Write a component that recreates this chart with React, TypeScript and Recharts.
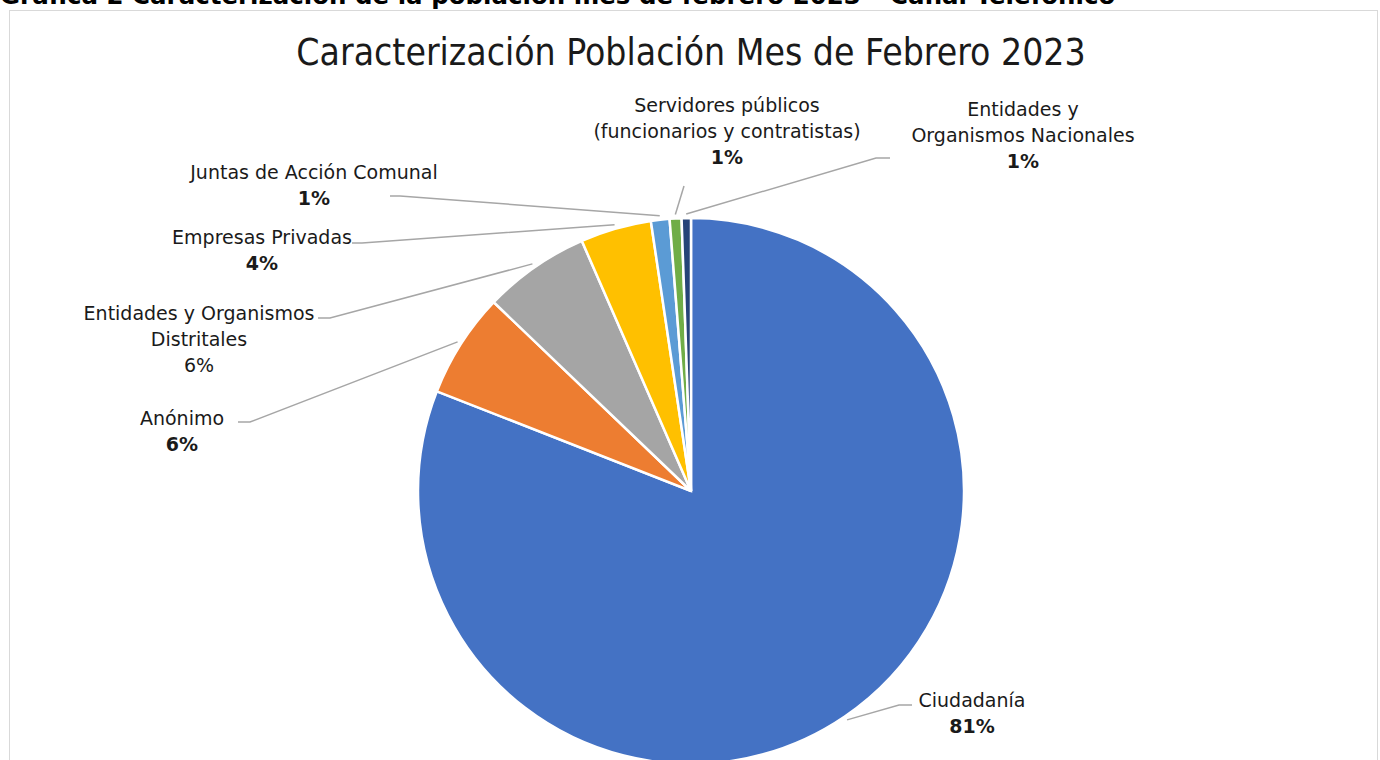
import { PieChart, Pie, Cell } from 'recharts';

// ---------------------------------------------------------------------------
// Data
// ---------------------------------------------------------------------------

const categories = [
  'Ciudadanía',
  'Anónimo',
  'Entidades y Organismos Distritales',
  'Empresas Privadas',
  'Juntas de Acción Comunal',
  'Servidores públicos (funcionarios y contratistas)',
  'Entidades y Organismos Nacionales',
];

const shares = [80.95, 6.2, 6.3, 4.2, 1.1, 0.7, 0.55];

const labelLines = [
  ['Ciudadanía'],
  ['Anónimo'],
  ['Entidades y Organismos', 'Distritales'],
  ['Empresas Privadas'],
  ['Juntas de Acción Comunal'],
  ['Servidores públicos', '(funcionarios y contratistas)'],
  ['Entidades y', 'Organismos Nacionales'],
];

const colors = ['#4472C4', '#ED7D31', '#A5A5A5', '#FFC000', '#5B9BD5', '#70AD47', '#264478'];

const chartData = categories.map((name, i) => ({ name, value: shares[i] }));

// ---------------------------------------------------------------------------
// Label layout (page coords): text centre, first line y, elbow and tail of leader
// ---------------------------------------------------------------------------

type LabelSpot = { x: number; y: number; elbow: [number, number]; tail?: number; boldPct: boolean };

const labelSpots: LabelSpot[] = [
  { x: 972, y: 700, elbow: [899, 705], tail: 912, boldPct: true },
  { x: 182, y: 418, elbow: [250, 422], tail: 238, boldPct: true },
  { x: 199, y: 313, elbow: [330, 318], tail: 318, boldPct: false },
  { x: 262, y: 237, elbow: [362, 243], tail: 352, boldPct: true },
  { x: 314, y: 172, elbow: [400, 196], tail: 390, boldPct: true },
  { x: 727, y: 105, elbow: [684, 186], boldPct: true },
  { x: 1023, y: 109, elbow: [876, 158], tail: 890, boldPct: true },
];

const FONT = "'DejaVu Sans', sans-serif";
const TITLE_FONT = "'DejaVu Sans Condensed', 'DejaVu Sans', sans-serif";
const RAD = Math.PI / 180;

function renderLabel(props: any) {
  const { cx, cy, midAngle, outerRadius, percent, index } = props;
  const spot = labelSpots[index];
  const lines = labelLines[index];
  const r = outerRadius + 4;
  const sx = cx + r * Math.cos(-midAngle * RAD);
  const sy = cy + r * Math.sin(-midAngle * RAD);
  const pts = [[sx, sy], spot.elbow];
  if (spot.tail !== undefined) pts.push([spot.tail, spot.elbow[1]]);
  const lh = 26;
  return (
    <g key={'lbl-' + index}>
      <polyline
        points={pts.map((p) => p[0] + ',' + p[1]).join(' ')}
        fill="none"
        stroke="#A6A6A6"
        strokeWidth={1.5}
      />
      {lines.map((ln, j) => (
        <text
          key={j}
          x={spot.x}
          y={spot.y + j * lh}
          textAnchor="middle"
          dominantBaseline="central"
          fontFamily={FONT}
          fontSize={19}
          fill="#1a1a1a"
        >
          {ln}
        </text>
      ))}
      <text
        x={spot.x}
        y={spot.y + lines.length * lh}
        textAnchor="middle"
        dominantBaseline="central"
        fontFamily={FONT}
        fontSize={19}
        fontWeight={spot.boldPct ? 700 : 400}
        fill="#1a1a1a"
      >
        {Math.round(percent * 100) + '%'}
      </text>
    </g>
  );
}

export default function App() {
  return (
    <div
      style={{
        position: 'fixed',
        left: 0,
        top: 0,
        width: 1380,
        height: 760,
        overflow: 'hidden',
        background: '#fff',
      }}
    >
      <div
        style={{
          position: 'absolute',
          left: 0,
          top: -19,
          fontFamily: "'DejaVu Sans', sans-serif",
          fontWeight: 700,
          fontSize: 24.5,
          color: '#000',
          whiteSpace: 'nowrap',
        }}
      >
        Gráfica 2 Caracterización de la población mes de febrero 2023 – Canal Telefónico
      </div>
      <div
        style={{
          position: 'absolute',
          left: 9,
          top: 10,
          width: 1367,
          height: 800,
          border: '1px solid #D9D9D9',
        }}
      />
      <div
        style={{
          position: 'absolute',
          left: 0,
          top: 30,
          width: 1380,
          textAlign: 'center',
          fontFamily: TITLE_FONT,
          fontSize: 37,
          color: '#1a1a1a',
          lineHeight: '46px',
        }}
      >
        <span style={{ position: 'relative', left: 1 }}>Caracterización Población Mes de Febrero 2023</span>
      </div>
      <div style={{ position: 'absolute', left: 0, top: 0 }}>
        <PieChart width={1380} height={760} margin={{ top: 0, right: 0, bottom: 0, left: 0 }}>
          <Pie
            data={chartData}
            dataKey="value"
            nameKey="name"
            cx={691}
            cy={491}
            outerRadius={273}
            startAngle={90}
            endAngle={-270}
            stroke="#fff"
            strokeWidth={2.5}
            label={renderLabel}
            labelLine={false}
            isAnimationActive={false}
          >
            {chartData.map((d, i) => (
              <Cell key={d.name} fill={colors[i]} />
            ))}
          </Pie>
        </PieChart>
      </div>
    </div>
  );
}
